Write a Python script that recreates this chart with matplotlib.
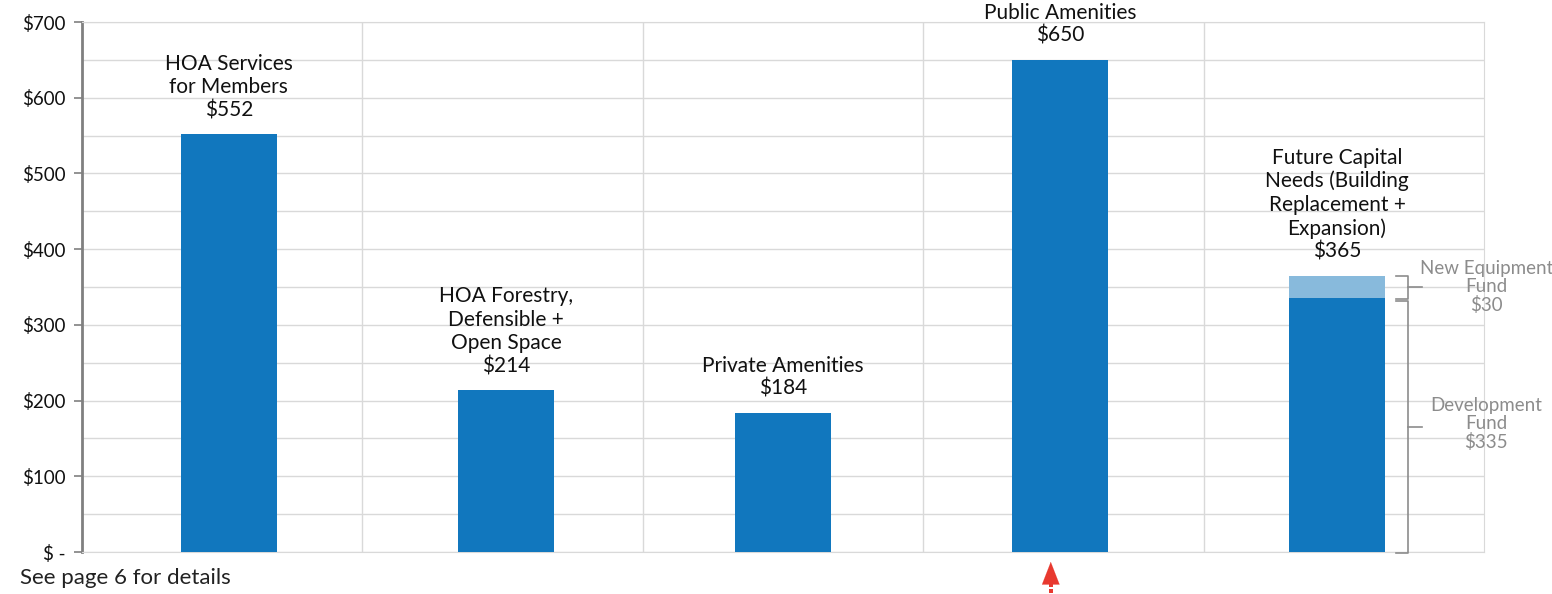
import matplotlib.pyplot as plt
from matplotlib.ticker import MultipleLocator, FuncFormatter

categories = ["HOA Services\nfor Members", "HOA Forestry,\nDefensible +\nOpen Space",
              "Private Amenities", "Public Amenities",
              "Future Capital\nNeeds (Building\nReplacement +\nExpansion)"]
base_values = [552, 214, 184, 650, 335]
top_values = [0, 0, 0, 0, 30]
totals = [b + t for b, t in zip(base_values, top_values)]
segment_labels = ["Development\nFund\n$335", "New Equipment\nFund\n$30"]

FONT = ["Lato", "DejaVu Sans"]
plt.rcParams["font.family"] = FONT

fig = plt.figure(figsize=(15.52, 5.94), dpi=100)
ax = fig.add_axes([82 / 1552, 1 - 552 / 594, (1484 - 82) / 1552, (552 - 22) / 594])

x = list(range(len(categories)))
offsets = [0.024, 0.012, 0.0, -0.012, -0.024]
xpos = [i + o for i, o in zip(x, offsets)]
w = 0.34
ax.bar(xpos, base_values, width=w, color="#1177BE", zorder=3)
ax.bar(xpos, top_values, width=w, bottom=base_values, color="#88BADC", zorder=3)

ax.set_xlim(-0.5, len(categories) - 0.5)
ax.set_ylim(0, 700)
ax.yaxis.set_major_locator(MultipleLocator(100))
ax.yaxis.set_minor_locator(MultipleLocator(50))
ax.yaxis.set_major_formatter(FuncFormatter(lambda v, p: "$ -" if v == 0 else f"${v:.0f}"))
ax.set_xticks([i + 0.5 for i in x[:-1]], minor=True)
ax.set_xticks([])
ax.grid(True, which="major", axis="y", color="#d9d9d9", lw=1, zorder=0)
ax.grid(True, which="minor", axis="y", color="#d9d9d9", lw=1, zorder=0)
ax.grid(True, which="minor", axis="x", color="#d9d9d9", lw=1, zorder=0)
ax.tick_params(axis="x", which="both", length=0)
ax.tick_params(axis="y", which="major", length=6, color="#808080", width=1.2,
               labelsize=13.5, pad=6, labelcolor="#111111")
ax.tick_params(axis="y", which="minor", length=0)
for s in ["top", "right"]:
    ax.spines[s].set_color("#d9d9d9")
ax.spines["bottom"].set_color("#d9d9d9")
ax.spines["left"].set_color("#808080")
ax.spines["left"].set_linewidth(2)

for xi, cat, tot in zip(xpos, categories, totals):
    ax.annotate(f"{cat}\n${tot:.0f}", (xi, tot), xytext=(0, 10), textcoords="offset points",
                ha="center", va="bottom", fontsize=15, linespacing=1.2,
                color="#111111", annotation_clip=False)

# Brackets for the stacked capital-needs bar
gray = "#8c8c8c"
bx = xpos[-1] + w / 2 + 0.04
arm = 0.042
def bracket(y0, y1):
    ax.plot([bx, bx + arm, bx + arm, bx], [y1, y1, y0, y0], color=gray, lw=1.2,
            clip_on=False, zorder=4)
    ym = (y0 + y1) / 2
    ax.plot([bx + arm, bx + arm + 0.05], [ym, ym], color=gray, lw=1.2, clip_on=False, zorder=4)

bracket(-1, base_values[-1] - 4)
bracket(base_values[-1] - 1, totals[-1])
ax.text(bx + arm + 0.28, 169, segment_labels[0], ha="center", va="center",
        fontsize=13.5, color=gray, linespacing=1.1)
ax.text(bx + arm + 0.28, 350, segment_labels[1], ha="center", va="center",
        fontsize=13.5, color=gray, linespacing=1.1)

# Pointer under the public amenities bar: dotted tail + solid head
red = "#e8392f"
px = xpos[3] - 0.033
ax.plot([px, px, px], [-37, -44, -51], ls="none", marker="s", ms=2.6,
        color=red, mew=0, clip_on=False, zorder=5)
ax.annotate("", xy=(px, -13), xytext=(px, -33),
            arrowprops=dict(arrowstyle="-|>,head_length=0.9,head_width=0.35", color=red,
                            lw=0.1, shrinkA=0, shrinkB=0, mutation_scale=18),
            annotation_clip=False)

fig.text(20 / 1552, 1 - 578 / 594, "See page 6 for details", fontsize=16,
         ha="left", va="center", color="#222222")

fig.savefig("out.png", dpi=100)
